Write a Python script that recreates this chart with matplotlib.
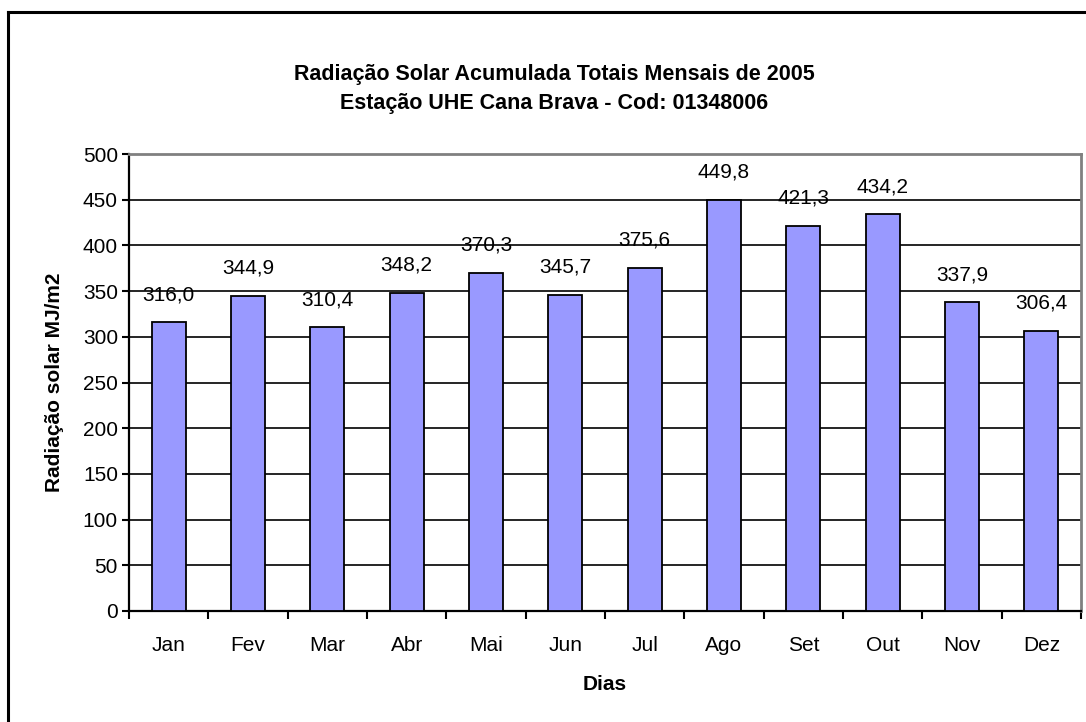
import matplotlib
matplotlib.use("Agg")
import matplotlib.pyplot as plt
from matplotlib.lines import Line2D
import numpy as np

plt.rcParams['font.family'] = ['Liberation Sans', 'DejaVu Sans']

months = ["Jan", "Fev", "Mar", "Abr", "Mai", "Jun", "Jul", "Ago", "Set", "Out", "Nov", "Dez"]
values = [316.0, 344.9, 310.4, 348.2, 370.3, 345.7, 375.6, 449.8, 421.3, 434.2, 337.9, 306.4]
yticks = [0, 50, 100, 150, 200, 250, 300, 350, 400, 450, 500]
title = "Radiação Solar Acumulada Totais Mensais de 2005\nEstação UHE Cana Brava - Cod: 01348006"
ylabel = "Radiação solar MJ/m2"
xlabel = "Dias"

W, H = 1086, 722
fig = plt.figure(figsize=(W / 100, H / 100), dpi=100)
ax = fig.add_axes([129 / W, 1 - 611 / H, (1081 - 129) / W, (611 - 154) / H])

x = np.arange(len(months))
ax.bar(x, values, width=0.43, color="#9999FF", edgecolor="black", linewidth=1.3, zorder=3)

ax.set_xlim(-0.5, len(months) - 0.5)
ax.set_ylim(0, 500)
ax.set_yticks(yticks)
ax.set_yticklabels([str(t) for t in yticks], fontsize=15)
ax.set_xticks(x)
ax.set_xticklabels(months, fontsize=15)
ax.set_xticks(np.arange(len(months) + 1) - 0.5, minor=True)
ax.tick_params(axis='x', which='major', length=0, pad=18)
ax.tick_params(axis='x', which='minor', length=6, width=1.5, direction='out')
ax.tick_params(axis='y', length=5, width=1.5, direction='out', pad=3)

ax.yaxis.grid(True, color="black", linewidth=1.2, zorder=0)
ax.set_axisbelow(True)

for s in ['left', 'bottom']:
    ax.spines[s].set_linewidth(1.6)
    ax.spines[s].set_color('black')
for s in ['top', 'right']:
    ax.spines[s].set_linewidth(2.0)
    ax.spines[s].set_color('#808080')

for xi, v in zip(x, values):
    ax.annotate(f"{v:.1f}".replace(".", ","), (xi, v), xytext=(0, 13), textcoords="offset points",
                ha="center", va="bottom", fontsize=15)

ax.set_ylabel(ylabel, fontsize=15, fontweight="bold", va="center")
ax.yaxis.set_label_coords((55 - 129) / (1081 - 129), 0.5)
ax.set_xlabel(xlabel, fontsize=15, fontweight="bold", va="center")
ax.xaxis.set_label_coords(0.5, (611 - 684) / (611 - 154))

fig.text(554 / W, 1 - 89 / H, title, ha="center", va="center", fontsize=15.5, fontweight="bold", linespacing=1.5)

# outer chart frame
fx, fy = 8 / W, 1 - 12 / H
fig.add_artist(Line2D([fx, 1.0], [fy, fy], transform=fig.transFigure, color="black", linewidth=2.2))
fig.add_artist(Line2D([fx, fx], [0.0, fy], transform=fig.transFigure, color="black", linewidth=2.2))

fig.savefig("out.png", dpi=100)
